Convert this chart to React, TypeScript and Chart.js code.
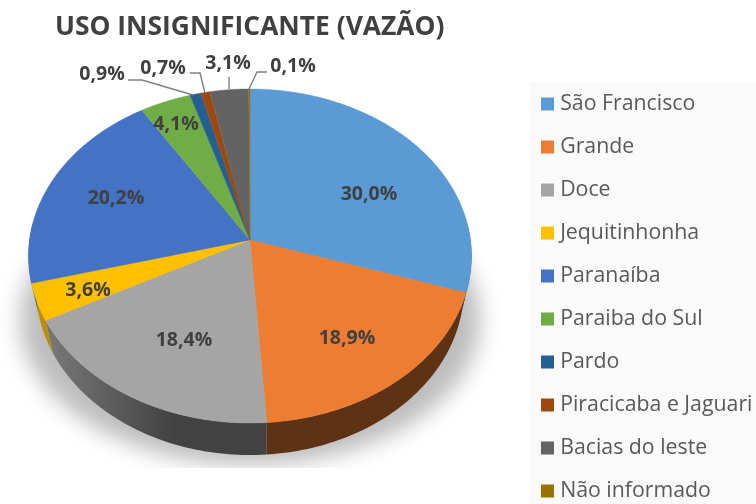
import React, { useEffect, useRef } from "react";
import { Chart, registerables } from "chart.js";

Chart.register(...registerables);

const categories = ["São Francisco", "Grande", "Doce", "Jequitinhonha", "Paranaíba", "Paraiba do Sul", "Pardo", "Piracicaba e Jaguari", "Bacias do leste", "Não informado"];
const shares = [30.0, 18.9, 18.4, 3.6, 20.2, 4.1, 0.9, 0.7, 3.1, 0.1];
const colors = ["#5b9bd5", "#ed7d31", "#a5a5a5", "#ffc000", "#4472c4", "#70ad47", "#255e91", "#9e480e", "#636363", "#997300"];
const titleText = "USO INSIGNIFICANTE (VAZÃO)";

const FONT = "'Open Sans', 'Noto Sans', sans-serif";
const CX = 250, CY = 240, RX = 220.5, A = 165.5, K = 0.0958, DEPTH = 32, RIM = 0.966;

const project = (a: number) => {
  const u = Math.cos(a), v = Math.sin(a), d = 1 - K * v;
  return { x: CX + (RX * u) / d, y: CY + (A * v) / d };
};
const rim = (a: number) => {
  const p = project(a);
  return { x: CX + (p.x - CX) * RIM, y: p.y + DEPTH };
};
const shade = (a: number) => {
  const t = (((a * 180) / Math.PI + 90) % 360 + 360) % 360;
  if (t <= 205) return 0.4;
  if (t >= 245) return 0.74;
  return 0.4 + ((t - 205) / 40) * 0.34;
};
const scaled = (hex: string, s: number) => {
  const n = parseInt(hex.slice(1), 16);
  return `rgb(${((n >> 16) & 255) * s},${((n >> 8) & 255) * s},${(n & 255) * s})`;
};

const labelSpots = [[369, 194], [347, 338], [184, 340], [88, 290], [116, 198], [176, 124], [102, 74], [163, 68], [228, 63], [293, 66]];
const leaders: number[][][] = [
  [[128, 80], [142, 80], [193, 95]],
  [[190, 73], [200, 73], [205, 93]],
  [[229, 77], [229, 89]],
  [[267, 72], [257, 72], [249, 89]],
];

const piePlugin = {
  id: "tiltedPie",
  beforeDraw(chart: any) {
    const { ctx } = chart;
    ctx.save();
    ctx.fillStyle = "#fafafa";
    ctx.fillRect(529, 82, 227, 422);
    ctx.restore();
  },
  afterLayout(chart: any) {
    const lg = chart.legend;
    lg.left = 523.8; lg.top = 71.6; lg.bottom = 560; lg.right = 756;
    const t = chart.titleBlock;
    t.left = 55; t.right = 460; t.top = 12;
  },
  beforeDatasetsDraw(chart: any) {
    const { ctx } = chart;
    const arcs = chart.getDatasetMeta(0).data;
    const values = chart.data.datasets[0].data;

    // soft cast shadow only (the shape itself sits off canvas), cut off at its lower edge
    ctx.save();
    ctx.beginPath();
    ctx.rect(0, 0, 756, 468);
    ctx.clip();
    ctx.shadowColor = "#bdbdbd";
    ctx.shadowBlur = 22;
    ctx.shadowOffsetX = 2000;
    ctx.fillStyle = "#000";
    ctx.beginPath();
    ctx.ellipse(CX - 2000, 320, 230, 145, 0, 0, Math.PI * 2);
    ctx.fill();
    ctx.restore();

    // side wall: one outline per slice, shaded across x
    arcs.forEach((arc: any, i: number) => {
      const start = arc.startAngle, end = arc.endAngle;
      const angles: number[] = [];
      const steps = Math.max(2, Math.ceil((end - start) / 0.02));
      for (let s = 0; s <= steps; s++) {
        const a = start + ((end - start) * s) / steps;
        if (Math.sin(a) > -0.1) angles.push(a);
      }
      if (angles.length < 2) return;
      const x0 = rim(angles[0]).x, x1 = rim(angles[angles.length - 1]).x;
      const grad = ctx.createLinearGradient(x0, 0, x1 === x0 ? x0 + 1 : x1, 0);
      angles.forEach((a, j) => grad.addColorStop(j / (angles.length - 1), scaled(colors[i], shade(a))));
      ctx.fillStyle = grad;
      ctx.beginPath();
      angles.forEach((a, j) => {
        const p = project(a);
        if (j) ctx.lineTo(p.x, p.y);
        else ctx.moveTo(p.x, p.y);
      });
      angles.slice().reverse().forEach((a) => {
        const q = rim(a);
        ctx.lineTo(q.x, q.y);
      });
      ctx.closePath();
      ctx.fill();
    });

    // top face
    arcs.forEach((arc: any, i: number) => {
      const start = arc.startAngle, end = arc.endAngle;
      const steps = Math.max(3, Math.ceil((end - start) / 0.01));
      ctx.fillStyle = colors[i];
      ctx.strokeStyle = colors[i];
      ctx.lineWidth = 0.4;
      ctx.beginPath();
      ctx.moveTo(CX, CY);
      for (let s = 0; s <= steps; s++) {
        const p = project(start + ((end - start) * s) / steps);
        ctx.lineTo(p.x, p.y);
      }
      ctx.closePath();
      ctx.fill();
      ctx.stroke();
    });

    // leader lines
    ctx.strokeStyle = "#7f7f7f";
    ctx.lineWidth = 1.4;
    leaders.forEach((pts) => {
      ctx.beginPath();
      pts.forEach(([x, y], j) => (j ? ctx.lineTo(x, y) : ctx.moveTo(x, y)));
      ctx.stroke();
    });

    // value labels
    ctx.fillStyle = "#404040";
    ctx.font = `bold 19.5px ${FONT}`;
    ctx.textAlign = "center";
    ctx.textBaseline = "middle";
    values.forEach((v: number, i: number) => {
      ctx.fillText(v.toFixed(1).replace(".", ",") + "%", labelSpots[i][0], labelSpots[i][1]);
    });
    return false;
  },
};

export default function App() {
  const ref = useRef<HTMLCanvasElement>(null);
  useEffect(() => {
    const chart = new Chart(ref.current!, {
      type: "pie",
      data: {
        labels: categories,
        datasets: [{ data: shares, backgroundColor: colors, borderWidth: 0 }],
      },
      options: {
        responsive: false,
        animation: false,
        plugins: {
          title: {
            display: true,
            text: titleText,
            align: "start",
            color: "#404040",
            font: { family: FONT, size: 26.4, weight: "bold" },
            padding: 0,
          },
          legend: {
            position: "right",
            align: "start",
            labels: {
              usePointStyle: true,
              pointStyle: "rect",
              boxWidth: 4,
              boxHeight: 13,
              padding: 21.7,
              color: "#595959",
              font: { family: FONT, size: 21.3 },
            },
          },
          tooltip: { enabled: false },
        },
      },
      plugins: [piePlugin],
    } as any);
    return () => chart.destroy();
  }, []);
  return (
    <div style={{ position: "absolute", left: 0, top: 0, width: 756, height: 504 }}>
      <canvas ref={ref} width={756} height={504} style={{ display: "block" }} />
    </div>
  );
}
